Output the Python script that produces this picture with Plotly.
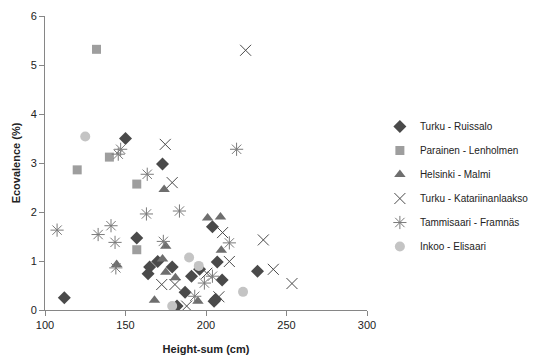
import plotly.graph_objects as go

# Turku - Ruissalo
ruissalo_x = [112, 150, 173, 157, 165, 164, 170, 179, 191, 187, 182, 196, 204, 207, 206, 205, 210, 232]
ruissalo_y = [0.25, 3.5, 2.98, 1.47, 0.88, 0.74, 0.99, 0.88, 0.69, 0.36, 0.08, 0.83, 1.70, 0.98, 0.22, 0.18, 0.61, 0.79]

# Parainen - Lenholmen
parainen_x = [132, 120, 140, 157, 157]
parainen_y = [5.32, 2.86, 3.12, 2.57, 1.23]

# Helsinki - Malmi
malmi_x = [174, 144.5, 175, 173, 175, 181, 168, 195, 201, 209, 209.5]
malmi_y = [2.46, 0.93, 1.3, 1.04, 0.77, 0.66, 0.2, 0.18, 1.88, 1.9, 1.22]

# Turku - Katariinanlaakso
katar_x = [224.6, 174.7, 179, 172.5, 180.7, 188, 210.3, 235.6, 214.5, 241.8, 253.4, 208, 200.5]
katar_y = [5.3, 3.38, 2.6, 0.52, 0.52, 0.08, 1.58, 1.43, 0.99, 0.83, 0.54, 0.27, 0.75]

# Tammisaari - Framnäs
tammi_x = [219, 147, 145.5, 163.5, 107.5, 133, 141, 143.5, 163, 144, 183.5, 173.5, 214.5, 193, 199, 204]
tammi_y = [3.28, 3.28, 3.18, 2.77, 1.63, 1.54, 1.72, 1.38, 1.96, 0.86, 2.02, 1.4, 1.37, 0.28, 0.55, 0.69]

# Inkoo - Elisaari
inkoo_x = [125, 189.5, 195.5, 179, 223]
inkoo_y = [3.54, 1.07, 0.9, 0.08, 0.37]

x_ticks = [100, 150, 200, 250, 300]
y_ticks = [0, 1, 2, 3, 4, 5, 6]

FONT = "Liberation Sans"

fig = go.Figure()
series = [
    ("Turku - Ruissalo", ruissalo_x, ruissalo_y, dict(symbol="diamond", size=10, color="#4a4a4a")),
    ("Parainen - Lenholmen", parainen_x, parainen_y, dict(symbol="square", size=9, color="#9e9e9e")),
    ("Helsinki - Malmi", malmi_x, malmi_y, dict(symbol="triangle-up", size=10, color="#6e6e6e")),
    ("Turku - Katariinanlaakso", katar_x, katar_y,
     dict(symbol="x-thin-open", size=11, color="#4a4a4a", line=dict(width=1, color="#4a4a4a"))),
    ("Tammisaari - Framnäs", tammi_x, tammi_y,
     dict(symbol="asterisk-open", size=11, color="#7a7a7a", line=dict(width=1, color="#7a7a7a"))),
    ("Inkoo - Elisaari", inkoo_x, inkoo_y, dict(symbol="circle", size=10, color="#c4c4c4")),
]
for i, (name, xs, ys, mk) in enumerate(series):
    fig.add_trace(go.Scatter(x=xs, y=ys, mode="markers", name=name, marker=mk,
                             legendgroup=f"g{i}"))

fig.update_layout(
    width=537, height=354,
    margin=dict(l=37, r=178, t=8, b=52, autoexpand=False),
    paper_bgcolor="white", plot_bgcolor="white",
    font=dict(family=FONT, size=11, color="#222"),
    showlegend=True,
    legend=dict(x=1.04, y=0.42, xanchor="left", yanchor="middle",
                traceorder="grouped", tracegroupgap=5,
                font=dict(family=FONT, size=10, color="#222"),
                itemwidth=30),
    xaxis=dict(range=[100, 300], tickvals=x_ticks, showgrid=False, zeroline=False,
               showline=True, linecolor="#868686", linewidth=1, automargin=False,
               ticks="outside", ticklen=5, tickcolor="#868686",
               title=dict(text="<b>Height-sum (cm)</b>", font=dict(size=11), standoff=15)),
    yaxis=dict(range=[0, 6], tickvals=y_ticks, showgrid=False, zeroline=False,
               showline=True, linecolor="#868686", linewidth=1, automargin=False,
               ticks="outside", ticklen=5, tickcolor="#868686",
               title=dict(text="<b>Ecovalence (%)</b>", font=dict(size=11), standoff=7)),
)

fig.write_html("out.html")
